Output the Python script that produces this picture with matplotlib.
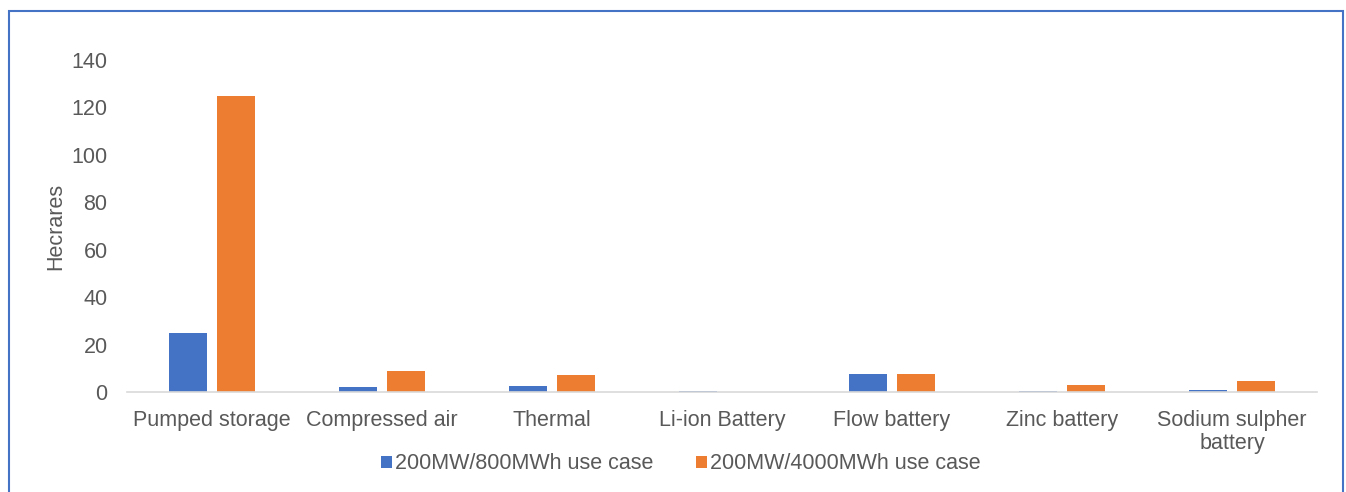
import numpy as np
import matplotlib.pyplot as plt
from matplotlib.patches import Rectangle

plt.rcParams['font.family'] = ['Liberation Sans', 'DejaVu Sans']

# === Données ===
categories = ["Pumped storage", "Compressed air", "Thermal", "Li-ion Battery",
              "Flow battery", "Zinc battery", "Sodium sulpher\nbattery"]
case_800 = [25, 2.1, 2.4, 0.5, 7.6, 0.4, 1.0]
case_4000 = [125, 8.8, 7.0, 0, 7.6, 2.8, 4.8]
series_labels = ["200MW/800MWh use case", "200MW/4000MWh use case"]

blue = '#4472C4'
orange = '#ED7D31'
text_col = '#595959'
fs = 15.5

fig = plt.figure(figsize=(13.46, 4.92), dpi=100)
ax = fig.add_axes([127 / 1346, 0.2033, (1317 - 127) / 1346, 0.6748])

x = np.arange(len(categories))
w = 0.224
gap = 0.059
ax.bar(x - (w + gap) / 2, case_800, width=w, color=blue, label=series_labels[0])
ax.bar(x + (w + gap) / 2, case_4000, width=w, color=orange, label=series_labels[1])

ax.set_xlim(-0.5, len(categories) - 0.5)
ax.set_ylim(0, 140)
ax.set_yticks(np.arange(0, 141, 20))
ax.set_xticks(x)
ax.set_xticklabels(categories, fontsize=fs, color=text_col, linespacing=1.15)
ax.tick_params(axis='y', labelsize=fs, labelcolor=text_col, length=0, pad=14)
ax.tick_params(axis='x', length=0, pad=13)

for side in ['top', 'right', 'left']:
    ax.spines[side].set_visible(False)
ax.spines['bottom'].set_color('#D9D9D9')
ax.spines['bottom'].set_linewidth(1.2)

ax.set_ylabel("Hecrares", fontsize=fs, color=text_col, labelpad=4)

leg = fig.legend(loc='center', bbox_to_anchor=(0.506, 0.057), ncol=2, frameon=False,
                 fontsize=fs, handlelength=0.5, handleheight=0.5,
                 columnspacing=2.0, handletextpad=0.15)
for t in leg.get_texts():
    t.set_color(text_col)

# Cadre bleu autour du graphique
fig.patches.append(Rectangle((9 / 1346, -0.05), (1343 - 9) / 1346, 1.05 - 11 / 492,
                             transform=fig.transFigure, fill=False,
                             edgecolor=blue, linewidth=1.5))

fig.savefig("out.png", dpi=100)
